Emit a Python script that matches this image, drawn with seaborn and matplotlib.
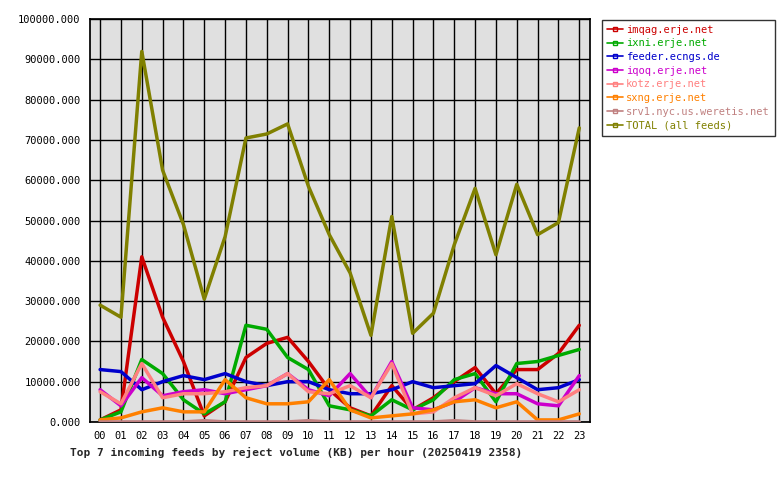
import matplotlib
matplotlib.use("Agg")
import matplotlib.pyplot as plt
import seaborn as sns
import pandas as pd
from matplotlib.ticker import FuncFormatter, MultipleLocator

hours = [f"{h:02d}" for h in range(24)]
imqag = [0.5,3,41,26,15,1.5,5,16,19.5,21,15,8,3.5,1.5,9,3,6,10,13.5,7,13,13,17,24]
ixni = [0.5,2.5,15.5,12,5.5,2,5,24,23,16,13,4,3,1.5,5.5,3,5.5,10.5,12,5,14.5,15,16.5,18]
feeder = [13,12.5,8,10,11.5,10.5,12,10,9,10,10,8,7,7,8,10,8.5,9,9.5,14,11,8,8.5,10.5]
iqoq = [8,4,11,6.5,7.5,8,7,8,9,12,8,6.5,12,6,15,3.5,3,5,8.5,7,7,4.5,4,11.5]
kotz = [7.5,4.5,14.5,6,7,7,7.5,8.5,9,12,7.5,7,9,6,14.5,2,2.5,6,8.5,6.5,9.5,7,5,8]
sxng = [0.5,1,2.5,3.5,2.5,2.5,10.5,6,4.5,4.5,5,10.5,3,1,1.5,2,3,5,5.5,3.5,5,0.5,0.5,2]
srv1 = [0,0,0,0,0,0.3,0,0,0,0,0.3,0,0,0,0,0,0,0.3,0,0,0,0,0,0]
total = [29,26,92,62.5,49,30.5,46,70.5,71.5,74,58.5,46.5,37,21.5,51,22,27,44,58,41.5,59,46.5,49.5,73]

names = ["imqag.erje.net","ixni.erje.net","feeder.ecngs.de","iqoq.erje.net",
         "kotz.erje.net","sxng.erje.net","srv1.nyc.us.weretis.net","TOTAL (all feeds)"]
colors = ["#cc0000","#00aa00","#0000cc","#cc00cc","#ff8080","#ff8000","#c08080","#808000"]
series = [imqag,ixni,feeder,iqoq,kotz,sxng,srv1,total]

rows = []
for n, s in zip(names, series):
    for i, v in enumerate(s):
        rows.append({"hour": i, "value": v * 1000, "feed": n})
df = pd.DataFrame(rows)

sns.set_theme(style="white")
plt.rcParams['font.family'] = ['DejaVu Sans Mono']
fig = plt.figure(figsize=(7.8, 4.8), dpi=100)
ax = fig.add_axes([0.115, 0.121, 0.641, 0.839])
ax.set_facecolor("#e0e0e0")
sns.lineplot(data=df, x="hour", y="value", hue="feed", hue_order=names,
             palette=colors, linewidth=2.5, ax=ax, legend=False, zorder=3)
ax.set_xlim(-0.5, 23.5)
ax.set_ylim(0, 100000)
ax.set_xticks(range(24))
ax.set_xticklabels(hours)
ax.yaxis.set_major_locator(MultipleLocator(10000))
ax.yaxis.set_major_formatter(FuncFormatter(lambda v, p: f"{v:.3f}"))
ax.grid(True, color="black", linewidth=1)
ax.set_axisbelow(True)
ax.tick_params(axis="both", labelsize=7.5, length=3, direction="out", colors="black")
for sp in ax.spines.values():
    sp.set_color("black")
ax.set_xlabel("")
ax.set_ylabel("")

from matplotlib.lines import Line2D
handles = [Line2D([0], [0], color=c, lw=1.2, marker="s", markersize=2.5, markevery=[1],
                  markerfacecolor="none") for c in colors]
leg = fig.legend(handles, names, loc="upper left", bbox_to_anchor=(0.765, 0.97),
                 frameon=True, fancybox=False, fontsize=7.5, handlelength=1.5,
                 handletextpad=0.3, labelspacing=0.35, borderpad=0.5)
leg.get_frame().set_edgecolor("black")
for t, c in zip(leg.get_texts(), colors):
    t.set_color(c)

fig.text(0.09, 0.05, "Top 7 incoming feeds by reject volume (KB) per hour (20250419 2358)",
         fontsize=8, fontweight="bold", ha="left")
fig.savefig("out.png", dpi=100)
